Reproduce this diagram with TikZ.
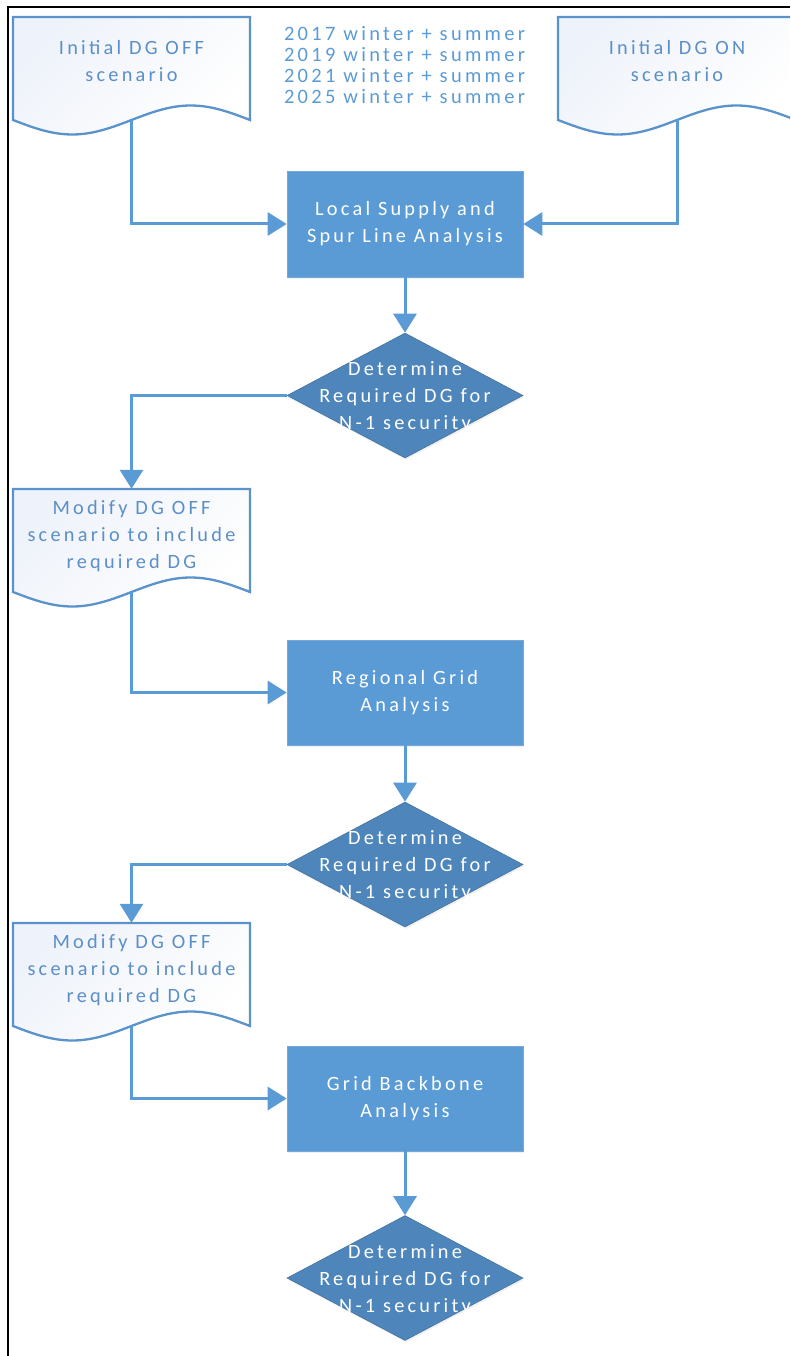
\documentclass[tikz,border=0pt]{standalone}
\usepackage{fontspec}
\setmainfont{Carlito}[LetterSpace=16]
\usetikzlibrary{arrows.meta,shapes.geometric,shadows}
\definecolor{linkblue}{HTML}{5B9BD5}
\definecolor{boxblue}{HTML}{5B9BD5}
\definecolor{diablue}{HTML}{4E86BB}
\definecolor{docline}{HTML}{5A93CC}
\definecolor{doctext}{HTML}{5B8FC8}
\definecolor{docfill}{HTML}{EEF2FA}
\newcommand\wavydoc[4]{%
  \path[docwave] (#1,#3) -- (#2,#3) -- (#2,#4)
     -- plot[domain=#2:#1, samples=60] (\x, {#4 + 14.5*sin(((\x-#1)/(#2-#1))*360)})
     -- cycle;}
\begin{document}
\begin{tikzpicture}[x=1pt,y=-1pt,
  txt/.style={font=\fontsize{20.3}{27}\selectfont, align=center},
  procbox/.style={rectangle, draw=boxblue!85!white, line width=0.6pt, fill=boxblue,
     minimum width=236pt, minimum height=106pt, inner sep=0pt, text=white, txt,
     drop shadow={opacity=0.12, shadow xshift=1pt, shadow yshift=-2pt}},
  decision/.style={diamond, draw=diablue!85!black, line width=0.6pt, fill=diablue,
     minimum width=236pt, minimum height=125pt, inner sep=0pt,
     drop shadow={opacity=0.12, shadow xshift=1pt, shadow yshift=-2pt}},
  dialabel/.style={txt, text=white, yshift=-2pt},
  docframe/.style={rectangle, draw=none, minimum width=237pt, minimum height=103pt, inner sep=0pt},
  doclabel/.style={txt, text=doctext},
  yeartext/.style={font=\fontsize{20.5}{21.3}\selectfont, align=center, text=linkblue},
  docwave/.style={draw=docline, line width=2.3pt, top color=docfill, bottom color=white, shading angle=45},
  conn/.style={draw=linkblue, line width=3pt, -{Triangle[length=19pt,width=23pt]}},
  frame/.style={draw=black, line width=2pt},
]
\clip (0,0) rectangle (790,1356);

% documents
\wavydoc{13}{250}{17}{120}
\node[docframe, label={[doclabel, yshift=7.5pt]center:Initial DG OFF\\scenario}] (doc1) at (131.5,68.5) {};
\wavydoc{558}{796}{17}{120}
\node[docframe, minimum width=238pt, label={[doclabel, yshift=7.5pt]center:Initial DG ON\\scenario}] (doc2) at (677,68.5) {};
\wavydoc{13}{250}{489}{592}
\node[docframe, label={[doclabel, yshift=4pt]center:Modify DG OFF\\scenario to include\\required DG}] (doc3) at (131.5,540.5) {};
\wavydoc{13}{250}{923}{1026}
\node[docframe, label={[doclabel, yshift=4.5pt]center:Modify DG OFF\\scenario to include\\required DG}] (doc4) at (131.5,974.5) {};

% years
\node[yeartext] (years) at (404.5,65) {2017 winter + summer\\2019 winter + summer\\2021 winter + summer\\2025 winter + summer};

% process boxes
\node[procbox] (box1) at (405,224) {Local Supply and\\Spur Line Analysis};
\node[procbox, minimum height=105pt] (box2) at (405,692.5) {Regional Grid\\Analysis};
\node[procbox, minimum height=105pt] (box3) at (405,1098.5) {Grid Backbone\\Analysis};

% decisions
\node[decision, label={[dialabel]center:Determine\\Required DG for\\N-1 security}] (dia1) at (405,395.5) {};
\node[decision, label={[dialabel]center:Determine\\Required DG for\\N-1 security}] (dia2) at (405,864.5) {};
\node[decision, label={[dialabel]center:Determine\\Required DG for\\N-1 security}] (dia3) at (405,1278) {};

% connectors
\draw[conn] (doc1.south) |- (box1.west);
\draw[conn] (doc2.south) |- (box1.east);
\draw[conn] (box1.south) -- (dia1.north);
\draw[conn] (dia1.west) -| (doc3.north);
\draw[conn] (doc3.south) |- (box2.west);
\draw[conn] (box2.south) -- (dia2.north);
\draw[conn] (dia2.west) -| (doc4.north);
\draw[conn] (doc4.south) |- (box3.west);
\draw[conn] (box3.south) -- (dia3.north);

% page frame
\coordinate (fbl) at (8,1356);
\coordinate (ftl) at (8,7);
\coordinate (ftr) at (790,7);
\draw[frame] (fbl) -- (ftl) -- (ftr);
\end{tikzpicture}
\end{document}
